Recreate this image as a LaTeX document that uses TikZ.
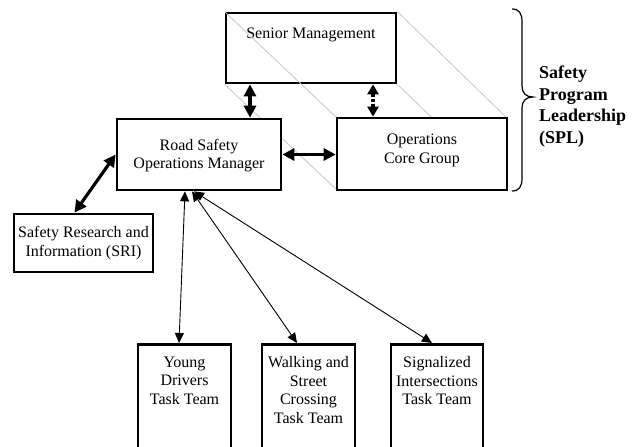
\documentclass[tikz,border=0pt]{standalone}
\usepackage{fontspec}
\setmainfont{Liberation Serif}
\usetikzlibrary{arrows.meta}
\begin{document}
\begin{tikzpicture}[x=1pt,y=-1pt,
  box/.style={draw, line width=2.7pt, fill=white, rectangle, inner sep=0pt},
  openbox/.style={draw, line width=2.7pt, rectangle, inner sep=0pt},
  txt/.style={align=center, inner sep=0pt, font=\fontsize{16}{18.5}\selectfont},
  spl/.style={align=left, inner sep=0pt, font=\bfseries\fontsize{18}{21.6}\selectfont},
  bigarr/.style={line width=3.2pt, {Triangle[length=12pt,width=12pt]}-{Triangle[length=12pt,width=12pt]}},
  dotarr/.style={line width=3.5pt, dash pattern=on 3pt off 2pt, {Triangle[length=10pt,width=11pt]}-{Triangle[length=10pt,width=11pt]}},
  thinarr/.style={line width=0.9pt, {Triangle[length=10pt,width=9pt]}-{Triangle[length=10pt,width=9pt]}},
  ghost/.style={draw=black!22, line width=0.8pt},
  bracestyle/.style={line width=1.2pt}
]
\useasboundingbox (0,0) rectangle (640,447);
\fill[white] (0,0) rectangle (640,447);
\clip (0,0) rectangle (640,447);

% Senior Management
\node[openbox, minimum width=170pt, minimum height=70pt] (sm) at (311,48) {};
\node[txt, anchor=north] (smt) at (311,28) {Senior Management};

% ghost lines connecting corners
\draw[ghost] (sm.north west) -- (337,118) coordinate (g1);
\draw[ghost] (sm.north east) -- (507,118) coordinate (g2);
\draw[ghost] (sm.south west) -- (337,190) coordinate (g3);
\draw[ghost] (sm.south east) -- (507,190) coordinate (g4);

% Road Safety Operations Manager
\node[box, minimum width=164pt, minimum height=71pt] (rsom) at (199,154.5) {};
\node[txt] (rsomt) at (199,155.5) {Road Safety\\Operations Manager};

% Operations Core Group
\node[box, minimum width=170pt, minimum height=72pt] (ocg) at (422,154) {};
\node[txt] (ocgt) at (422,150.5) {Operations\\Core Group};

% Safety Research and Information
\node[box, minimum width=139pt, minimum height=58pt] (sri) at (83.5,243) {};
\node[txt] (srit) at (83.5,243) {Safety Research and\\Information (SRI)};

% Task teams
\node[box, minimum width=93pt, minimum height=140pt, anchor=north] (yd) at (184.5,343) {};
\node[txt, anchor=north] (ydt) at (184.5,356.5) {Young\\Drivers\\Task Team};
\node[box, minimum width=93pt, minimum height=140pt, anchor=north] (ws) at (308.5,343) {};
\node[txt, anchor=north] (wst) at (308.5,356.5) {Walking and\\Street\\Crossing\\Task Team};
\node[box, minimum width=92pt, minimum height=140pt, anchor=north] (si) at (437,343) {};
\node[txt, anchor=north] (sit) at (437,356.5) {Signalized\\Intersections\\Task Team};

% Arrows
\draw[bigarr] ([xshift=-61pt]sm.south) -- ([xshift=51pt]rsom.north);
\draw[dotarr] ([xshift=62pt]sm.south) -- ([xshift=-49pt]ocg.north);
\draw[bigarr] (rsom.east) -- (rsom.east -| ocg.west);
\draw[bigarr] ([xshift=-9pt]sri.north) -- (rsom.west);

\draw[thinarr] ([xshift=-14pt]rsom.south) -- ([xshift=-5.5pt]yd.north);
\draw[thinarr] ([xshift=-7pt]rsom.south) -- ([xshift=-11.5pt]ws.north);
\draw[thinarr] ([xshift=-5pt]rsom.south) -- ([xshift=-5pt]si.north);

% Brace
\coordinate (btop) at (512,9);
\coordinate (btip) at (533,97);
\coordinate (bbot) at (512,191);
\draw[bracestyle] (btop) .. controls (519,9) and (522,13) .. (522,22) -- (522,86)
  .. controls (522,93) and (526,97) .. (btip)
  .. controls (526,97) and (522,101) .. (522,108) -- (522,178)
  .. controls (522,187) and (519,191) .. (bbot);

\node[spl, anchor=west] (splt) at (539,106.5) {Safety\\Program\\Leadership\\(SPL)};
\end{tikzpicture}
\end{document}
